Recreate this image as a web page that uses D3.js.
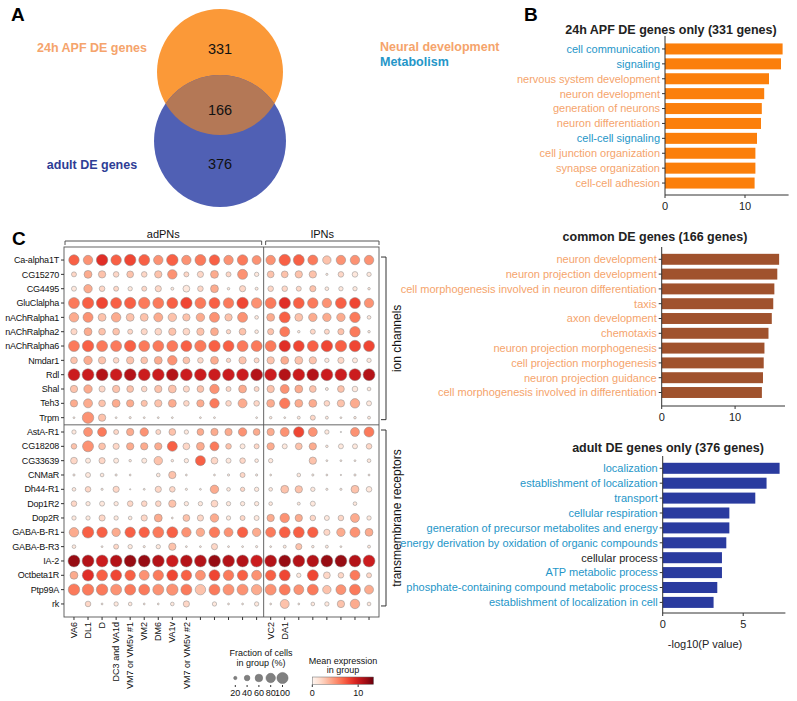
<!DOCTYPE html>
<html>
<head>
<meta charset="utf-8">
<script src="https://cdn.jsdelivr.net/npm/d3@7"></script>
<style>
  body { margin: 0; background: #fff; }
  text { font-family: "Liberation Sans", Arial, sans-serif; }
</style>
</head>
<body>
<div id="chart"></div>
<script>
// ---- data ----
var vennCounts = [331, 166, 376];
var vennLabels = ['24h APF DE genes', 'adult DE genes'];

var apfTerms = ['cell communication', 'signaling', 'nervous system development', 'neuron development',
  'generation of neurons', 'neuron differentiation', 'cell-cell signaling', 'cell junction organization',
  'synapse organization', 'cell-cell adhesion'];
var apfValues = [14.7, 14.5, 13.0, 12.4, 12.1, 12.0, 11.5, 11.3, 11.3, 11.2];
var apfKinds = ['metab', 'metab', 'neural', 'neural', 'neural', 'neural', 'metab', 'neural', 'neural', 'neural'];

var commonTerms = ['neuron development', 'neuron projection development',
  'cell morphogenesis involved in neuron differentiation', 'taxis', 'axon development', 'chemotaxis',
  'neuron projection morphogenesis', 'cell projection morphogenesis', 'neuron projection guidance',
  'cell morphogenesis involved in differentiation'];
var commonValues = [16.0, 15.75, 15.35, 15.2, 15.0, 14.55, 14.0, 13.9, 13.8, 13.65];
var commonKinds = ['neural', 'neural', 'neural', 'neural', 'neural', 'neural', 'neural', 'neural', 'neural', 'neural'];

var adultTerms = ['localization', 'establishment of localization', 'transport', 'cellular respiration',
  'generation of precursor metabolites and energy', 'energy derivation by oxidation of organic compounds',
  'cellular process', 'ATP metabolic process', 'phosphate-containing compound metabolic process',
  'establishment of localization in cell'];
var adultValues = [7.26, 6.45, 5.75, 4.14, 4.14, 3.95, 3.68, 3.68, 3.39, 3.16];
var adultKinds = ['metab', 'metab', 'metab', 'metab', 'metab', 'metab', 'other', 'metab', 'metab', 'metab'];

var ionChannels = ['Ca-alpha1T', 'CG15270', 'CG4495', 'GluClalpha', 'nAChRalpha1', 'nAChRalpha2',
  'nAChRalpha6', 'Nmdar1', 'Rdl', 'Shal', 'Teh3', 'Trpm'];
var receptors = ['AstA-R1', 'CG18208', 'CG33639', 'CNMaR', 'Dh44-R1', 'Dop1R2', 'Dop2R', 'GABA-B-R1',
  'GABA-B-R3', 'IA-2', 'Octbeta1R', 'Ptp99A', 'rk'];
var clusterLabels = ['VA6', 'DL1', 'D', 'DC3 and VA1d', 'VM7 or VM5v #1', 'VM2', 'DM6', 'VA1v',
  'VM7 or VM5v #2', '', '', '', '', '', 'VC2', 'DA1', '', '', '', '', '', ''];
var nAdPN = 14;

// fraction of cells (%) per gene, 14 adPN + 8 lPN clusters
var fraction = [
  [80,70,90,80,90,85,70,90,70,85,80,70,80,65, 70,90,85,75,60,70,70,70],
  [30,55,50,35,45,35,50,70,30,40,55,30,75,25, 45,45,50,50,10,35,35,25],
  [30,60,35,30,25,30,40,15,45,35,55,12,40,15, 35,35,30,40,20,25,25,12],
  [85,90,90,85,90,90,85,85,90,85,85,80,90,80, 85,90,85,80,70,85,85,70],
  [70,75,55,70,55,55,65,60,50,60,75,50,75,20, 55,85,55,60,60,60,80,20],
  [40,55,45,45,30,40,45,50,45,50,55,25,45,20, 40,75,12,30,30,40,80,12],
  [85,90,85,85,90,85,85,85,85,90,90,85,85,85, 85,90,85,85,90,90,90,85],
  [45,60,50,35,50,45,55,70,45,35,55,25,50,30, 50,55,55,50,25,40,30,25],
  [95,95,95,95,95,95,95,95,95,95,95,95,95,95, 95,95,95,95,95,95,95,95],
  [50,60,40,50,45,35,50,55,40,45,70,30,55,30, 50,65,55,45,15,45,35,20],
  [50,65,45,55,50,40,50,55,35,50,70,35,65,35, 55,80,55,55,35,50,70,30],
  [8,90,50,8,10,8,8,8,0,8,8,0,0,8, 12,8,15,30,15,8,12,15],
  [25,65,65,30,50,60,30,45,25,45,50,50,60,45, 50,65,80,65,25,5,65,75],
  [35,85,45,40,50,50,50,75,45,55,65,35,30,30, 50,30,45,50,12,30,30,35],
  [45,30,40,30,12,30,60,12,25,75,45,30,35,20, 25,0,0,50,8,8,8,20],
  [10,30,20,10,8,0,20,50,8,0,8,10,30,10, 8,0,20,10,8,5,10,8],
  [20,35,10,40,5,8,40,35,10,8,60,20,25,25, 20,55,50,25,10,10,55,35],
  [35,25,30,25,35,35,35,50,25,25,45,25,25,25, 20,0,15,30,0,0,20,0],
  [25,25,40,25,20,40,55,8,45,40,60,25,30,30, 50,70,50,35,30,35,65,25],
  [70,90,80,60,80,80,85,85,70,60,80,65,80,60, 75,85,85,80,40,60,75,55],
  [20,0,8,30,25,10,25,50,8,8,40,8,8,10, 8,15,40,12,15,8,0,15],
  [95,95,95,95,95,95,95,95,95,95,95,95,95,95, 95,95,95,95,95,95,95,95],
  [55,90,85,85,80,75,80,85,80,75,85,80,80,75, 80,85,25,85,45,35,75,30],
  [90,90,90,85,85,85,85,90,85,80,85,85,85,80, 85,85,75,85,60,75,85,65],
  [0,35,8,25,20,8,8,20,40,0,25,8,8,25, 8,65,8,20,25,50,70,20]
];
// mean expression in group
var expression = [
  [7,5,9,7,8,7,5,7,5,6,7,5,6,5, 5,7,7,6,3,5,5,5],
  [2,4,3,2,3,2,3,5,2,2,4,2,5,1, 3,3,3,3,1,2,1,1],
  [1,4,2,2,1,2,2,1,1,2,4,1,2,1, 2,2,2,3,1,1,1,1],
  [6,7,8,7,7,6,6,7,8,6,7,6,8,5, 6,9,7,6,5,7,8,5],
  [4,5,3,4,3,3,4,3,3,4,5,3,5,1, 4,7,3,4,4,4,6,1],
  [2,4,3,3,2,2,2,3,2,3,4,2,3,1, 3,6,1,2,2,3,6,1],
  [6,7,6,6,7,6,6,6,7,6,7,7,6,6, 6,9,8,7,8,7,8,8],
  [3,4,3,2,3,3,4,5,3,2,4,2,3,2, 3,4,3,3,1,2,1,1],
  [10,10,11,10,11,10,10,11,10,10,10,10,10,11, 10,11,10,11,10,10,10,11],
  [3,4,2,3,3,2,3,3,2,3,5,2,4,2, 3,5,4,3,1,3,1,1],
  [4,4,3,4,4,3,3,4,2,4,6,2,4,2, 4,6,4,4,2,3,4,1],
  [1,5,3,1,1,1,1,1,0,1,1,0,0,1, 1,1,1,2,1,1,1,1],
  [1,5,6,2,4,5,2,3,1,4,4,4,5,4, 4,5,8,5,1,0,5,6],
  [3,5,3,2,4,4,4,7,2,4,6,3,1,2, 4,1,3,4,1,1,1,2],
  [2,1,2,1,1,1,3,1,1,7,2,1,2,1, 1,0,0,3,1,1,1,1],
  [1,1,1,1,1,0,1,3,1,0,1,1,2,1, 1,0,1,1,1,1,1,1],
  [1,2,1,2,1,1,2,2,1,1,4,1,2,1, 1,3,3,1,1,1,3,1],
  [2,1,1,1,2,2,2,3,1,1,2,1,1,1, 1,0,1,1,0,0,1,0],
  [1,1,2,1,1,2,4,1,3,2,4,1,2,1, 4,5,4,2,1,2,4,1],
  [4,7,7,4,7,7,6,7,5,4,6,5,7,4, 6,7,7,7,2,4,5,4],
  [1,0,1,2,1,1,1,3,1,1,2,1,1,1, 1,1,3,1,1,1,0,1],
  [12,11,10,11,12,12,11,10,11,11,12,11,11,10, 11,12,11,11,12,12,11,10],
  [4,9,7,8,7,5,6,8,7,5,8,6,7,5, 7,8,1,8,2,2,6,2],
  [6,6,6,5,6,6,5,5,6,3,6,5,5,4, 5,6,5,6,3,5,6,4],
  [0,2,1,1,1,1,1,1,2,0,1,1,1,1, 1,3,1,1,1,3,4,1]
];
var sizeLegend = [20, 40, 60, 80, 100];
var colorTicks = [0, 10];

// ---- setup ----
var width = 797, height = 701;
var svg = d3.select('#chart').append('svg')
  .attr('width', width)
  .attr('height', height);

var kindColor = { neural: '#f5a46c', metab: '#2596c8', other: '#222' };

function panelLetter(t, x, y) {
  svg.append('text').attr('x', x).attr('y', y)
    .attr('font-size', 19).attr('font-weight', 'bold').text(t);
}
panelLetter('A', 11, 21);
panelLetter('B', 524, 21);
panelLetter('C', 12, 245);

// ---- A: venn ----
var venn = svg.append('g');
var cA = { x: 220, y: 72, r: 63 }, cB = { x: 220, y: 141, r: 66 };
venn.append('defs').append('clipPath').attr('id', 'clipA')
  .append('circle').attr('cx', cA.x).attr('cy', cA.y).attr('r', cA.r);
venn.append('circle').attr('cx', cA.x).attr('cy', cA.y).attr('r', cA.r).attr('fill', '#fb9938');
venn.append('circle').attr('cx', cB.x).attr('cy', cB.y).attr('r', cB.r).attr('fill', '#5060b4');
venn.append('circle').attr('cx', cB.x).attr('cy', cB.y).attr('r', cB.r)
  .attr('clip-path', 'url(#clipA)').attr('fill', '#b47856');
venn.selectAll('text.count')
    .data(vennCounts)
  .enter().append('text')
    .attr('class', 'count')
    .attr('x', 220)
    .attr('y', function (d, i) { return [53.5, 114.5, 168.5][i]; })
    .attr('text-anchor', 'middle')
    .attr('font-size', 14.5)
    .attr('fill', '#111')
    .text(function (d) { return d; });
venn.append('text').attr('x', 92).attr('y', 52).attr('text-anchor', 'middle')
  .attr('font-size', 12.5).attr('font-weight', 'bold').attr('fill', '#f5a46c').text(vennLabels[0]);
venn.append('text').attr('x', 92).attr('y', 169).attr('text-anchor', 'middle')
  .attr('font-size', 12.5).attr('font-weight', 'bold').attr('fill', '#2e3d95').text(vennLabels[1]);

// ---- B: bar panels ----
svg.append('text').attr('x', 380).attr('y', 51).attr('font-size', 12.5)
  .attr('font-weight', 'bold').attr('fill', kindColor.neural).text('Neural development');
svg.append('text').attr('x', 380).attr('y', 66).attr('font-size', 12.5)
  .attr('font-weight', 'bold').attr('fill', kindColor.metab).text('Metabolism');

function barPanel(o) {
  var g = svg.append('g');
  var y = d3.scaleBand().domain(o.terms).range(o.yRange).paddingInner(0.26).paddingOuter(0.13);
  var x = d3.scaleLinear().domain([0, o.max]).range(o.xRange);

  g.append('text').attr('x', o.titleX).attr('y', o.titleY).attr('text-anchor', 'middle')
    .attr('font-size', 12.5).attr('font-weight', 'bold').attr('fill', '#222').text(o.title);

  g.selectAll('rect')
      .data(o.values)
    .enter().append('rect')
      .attr('x', x(0))
      .attr('y', function (d, i) { return y(o.terms[i]); })
      .attr('width', function (d) { return x(d) - x(0); })
      .attr('height', y.bandwidth())
      .attr('fill', o.color);

  var yAxis = g.append('g').attr('transform', 'translate(' + x(0) + ',0)');
  yAxis.append('line').attr('y1', o.lineTop).attr('y2', o.axisY).attr('stroke', '#333');
  var yt = yAxis.selectAll('g.tick').data(o.terms).enter().append('g')
    .attr('transform', function (d) { return 'translate(0,' + (y(d) + y.bandwidth() / 2) + ')'; });
  yt.append('line').attr('x1', -3).attr('x2', 0).attr('stroke', '#333');
  yt.append('text').attr('x', -5).attr('dy', '0.35em').attr('text-anchor', 'end')
    .attr('font-size', 11)
    .attr('fill', function (d, i) { return kindColor[o.kinds[i]]; })
    .text(function (d) { return d; });

  var xAxis = g.append('g').attr('transform', 'translate(0,' + o.axisY + ')');
  xAxis.append('line').attr('x1', x(0)).attr('x2', x(o.max)).attr('stroke', '#333');
  var xt = xAxis.selectAll('g.tick').data(o.ticks).enter().append('g')
    .attr('transform', function (d) { return 'translate(' + x(d) + ',0)'; });
  xt.append('line').attr('y2', 3).attr('stroke', '#333');
  xt.append('text').attr('y', 15).attr('text-anchor', 'middle').attr('font-size', 11)
    .attr('fill', '#222').text(function (d) { return d; });
  if (o.xLabel) {
    g.append('text').attr('x', o.xLabelX).attr('y', o.axisY + 35)
      .attr('text-anchor', 'middle').attr('font-size', 11).attr('fill', '#222').text(o.xLabel);
  }
}

barPanel({ title: '24h APF DE genes only (331 genes)', titleX: 671, titleY: 34,
  terms: apfTerms, values: apfValues, kinds: apfKinds, color: '#fb7f0b',
  yRange: [41.5, 190.5], lineTop: 36, axisY: 195, xRange: [665, 788.6], max: 15.45, ticks: [0, 10] });
barPanel({ title: 'common DE genes (166 genes)', titleX: 655, titleY: 241,
  terms: commonTerms, values: commonValues, kinds: commonKinds, color: '#a0522d',
  yRange: [251.9, 399.9], lineTop: 247, axisY: 406, xRange: [661.7, 785], max: 16.8, ticks: [0, 10] });
barPanel({ title: 'adult DE genes only (376 genes)', titleX: 668, titleY: 452,
  terms: adultTerms, values: adultValues, kinds: adultKinds, color: '#2a3b9f',
  yRange: [460.85, 609.85], lineTop: 456, axisY: 613, xRange: [662.7, 785.4], max: 7.62, ticks: [0, 5],
  xLabel: '-log10(P value)', xLabelX: 705 });

// ---- C: dot plot ----
var genes = ionChannels.concat(receptors);
var dx = d3.scalePoint().domain(d3.range(clusterLabels.length)).range([64, 379]).padding(0.71);
var dy = d3.scalePoint().domain(genes).range([247, 617]).padding(0.91);
var rad = d3.scalePow().exponent(0.75).domain([0, 100]).range([0, 6.2]);
var cmax = 13.35;
var reds = d3.scaleSequential(d3.interpolateReds).domain([0, cmax]);

var dot = svg.append('g');
dot.append('rect').attr('x', 64).attr('y', 247).attr('width', 315).attr('height', 370)
  .attr('fill', 'none').attr('stroke', '#555').attr('stroke-width', 0.9);
var sepX = (dx(nAdPN - 1) + dx(nAdPN)) / 2;
var sepY = (dy(ionChannels[ionChannels.length - 1]) + dy(receptors[0])) / 2;
dot.append('line').attr('x1', sepX).attr('x2', sepX).attr('y1', 247).attr('y2', 617)
  .attr('stroke', '#555').attr('stroke-width', 0.9);
dot.append('line').attr('x1', 64).attr('x2', 379).attr('y1', sepY).attr('y2', sepY)
  .attr('stroke', '#555').attr('stroke-width', 0.9);

var cells = [];
genes.forEach(function (gname, gi) {
  fraction[gi].forEach(function (f, ci) {
    if (f > 0) cells.push({ gene: gname, col: ci, frac: f, expr: expression[gi][ci] });
  });
});
dot.selectAll('circle.cell')
    .data(cells)
  .enter().append('circle')
    .attr('class', 'cell')
    .attr('cx', function (d) { return dx(d.col); })
    .attr('cy', function (d) { return dy(d.gene); })
    .attr('r', function (d) { return rad(d.frac); })
    .attr('fill', function (d) { return reds(d.expr); })
    .attr('stroke', '#8a8a8a')
    .attr('stroke-width', 0.5);

// gene labels
var gl = dot.selectAll('g.gene').data(genes).enter().append('g')
  .attr('transform', function (d) { return 'translate(64,' + dy(d) + ')'; });
gl.append('line').attr('x1', -3).attr('x2', 0).attr('stroke', '#333');
gl.append('text').attr('x', -5).attr('dy', '0.35em').attr('text-anchor', 'end')
  .attr('font-size', 9).attr('letter-spacing', -0.2).attr('fill', '#111')
  .text(function (d) { return d; });

// cluster labels
var cl = dot.selectAll('g.cluster').data(clusterLabels).enter().append('g')
  .attr('transform', function (d, i) { return 'translate(' + dx(i) + ',617)'; });
cl.append('line').attr('y2', 3).attr('stroke', '#333');
cl.append('text').attr('transform', 'translate(0,5) rotate(-90)').attr('dy', '0.35em')
  .attr('text-anchor', 'end').attr('font-size', 9).attr('fill', '#111')
  .text(function (d) { return d; });

// group brackets on top
function topBracket(x1, x2, label) {
  var p = 'M' + x1 + ',245V241H' + x2 + 'V245';
  dot.append('path').attr('d', p).attr('fill', 'none').attr('stroke', '#555');
  dot.append('text').attr('x', (x1 + x2) / 2).attr('y', 238).attr('text-anchor', 'middle')
    .attr('font-size', 11).attr('fill', '#111').text(label);
}
topBracket(65, sepX - 2, 'adPNs');
topBracket(sepX + 2, 379, 'lPNs');

// gene group brackets on the right
function sideBracket(y1, y2, label) {
  var p = 'M381,' + y1 + 'H386V' + y2 + 'H381';
  dot.append('path').attr('d', p).attr('fill', 'none').attr('stroke', '#333');
  dot.append('text').attr('transform', 'translate(397,' + ((y1 + y2) / 2) + ') rotate(-90)')
    .attr('dy', '0.35em').attr('text-anchor', 'middle').attr('font-size', 12)
    .attr('fill', '#111').text(label);
}
sideBracket(dy(ionChannels[0]) - 3, dy(ionChannels[ionChannels.length - 1]) + 2, 'ion channels');
sideBracket(dy(receptors[0]) - 2, dy(receptors[receptors.length - 1]) + 2, 'transmembrane receptors');

// size legend
var sl = svg.append('g');
sl.append('text').attr('x', 261).attr('y', 656).attr('text-anchor', 'middle')
  .attr('font-size', 9).attr('fill', '#111').text('Fraction of cells');
sl.append('text').attr('x', 261).attr('y', 666).attr('text-anchor', 'middle')
  .attr('font-size', 9).attr('fill', '#111').text('in group (%)');
var sx = d3.scalePoint().domain(sizeLegend).range([235.3, 282.5]);
var si = sl.selectAll('g.s').data(sizeLegend).enter().append('g')
  .attr('transform', function (d) { return 'translate(' + sx(d) + ',0)'; });
si.append('circle').attr('cy', 678).attr('r', function (d) { return rad(d) * 0.9; })
  .attr('fill', '#808080').attr('stroke', '#666').attr('stroke-width', 0.5);
si.append('line').attr('y1', 685).attr('y2', 687).attr('stroke', '#333');
si.append('text').attr('y', 696).attr('text-anchor', 'middle').attr('font-size', 9)
  .attr('fill', '#111').text(function (d) { return d; });

// color legend
var cg = svg.append('g');
cg.append('text').attr('x', 343).attr('y', 664).attr('text-anchor', 'middle')
  .attr('font-size', 9).attr('fill', '#111').text('Mean expression');
cg.append('text').attr('x', 343).attr('y', 673).attr('text-anchor', 'middle')
  .attr('font-size', 9).attr('fill', '#111').text('in group');
var cx = d3.scaleLinear().domain([0, cmax]).range([312.3, 373.5]);
var grad = svg.append('defs').append('linearGradient').attr('id', 'redsGrad');
d3.range(0, 1.01, 0.1).forEach(function (t) {
  grad.append('stop').attr('offset', t).attr('stop-color', d3.interpolateReds(t));
});
cg.append('rect').attr('x', cx(0)).attr('y', 677).attr('width', cx(cmax) - cx(0)).attr('height', 7.3)
  .attr('fill', 'url(#redsGrad)').attr('stroke', '#666').attr('stroke-width', 0.5);
var ct = cg.selectAll('g.ct').data(colorTicks).enter().append('g')
  .attr('transform', function (d) { return 'translate(' + cx(d) + ',0)'; });
ct.append('line').attr('y1', 684.5).attr('y2', 687).attr('stroke', '#333');
ct.append('text').attr('y', 696).attr('text-anchor', 'middle').attr('font-size', 9)
  .attr('fill', '#111').text(function (d) { return d; });
</script>
</body>
</html>
